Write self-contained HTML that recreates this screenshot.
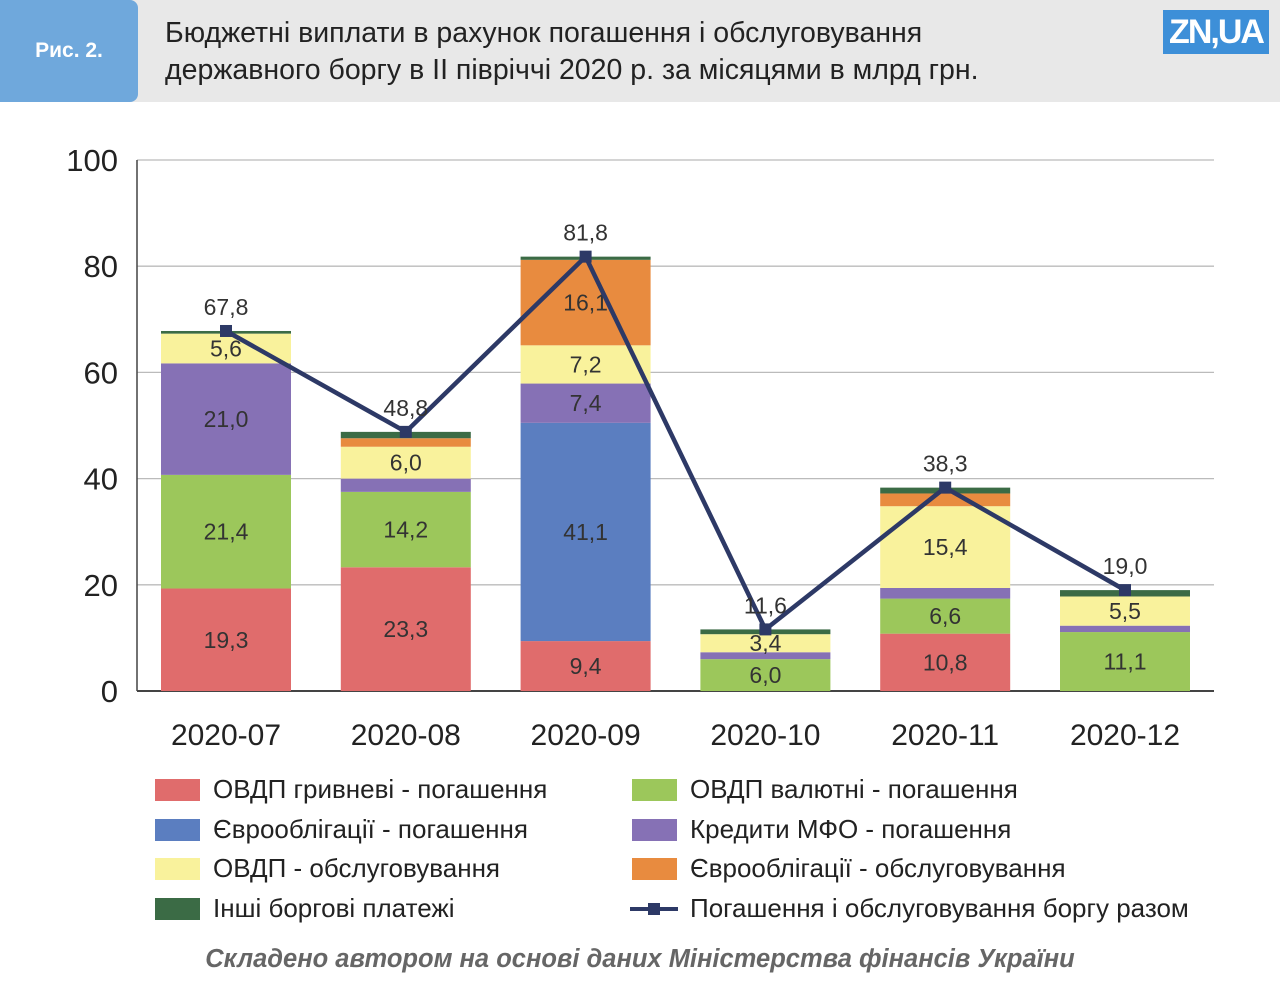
<!DOCTYPE html>
<html><head><meta charset="utf-8">
<style>
body{margin:0;width:1280px;height:991px;background:#fff;font-family:"Liberation Sans",sans-serif;overflow:hidden;position:relative}
.hdr{position:absolute;left:0;top:0;width:1280px;height:102px;background:#e8e8e8}
.fig{position:absolute;left:0;top:0;width:138px;height:102px;background:#6fa8dc;color:#fff;font-weight:bold;font-size:21px;line-height:102px;text-align:center;border-radius:0 8px 8px 0}
.title{position:absolute;left:165px;top:15px;font-size:28.5px;line-height:37px;color:#222}
.logo{position:absolute;left:1163px;top:10px;width:106px;height:44px;background:#3d8fd8;color:#fff;font-weight:bold;font-size:34px;line-height:44px;text-align:center;letter-spacing:-2px}
.leg{position:absolute;font-size:26px;color:#222}
.sw{position:absolute;width:45px;height:22px}
.foot{position:absolute;left:0;width:1280px;top:945px;text-align:center;font-size:25.5px;font-weight:bold;font-style:italic;color:#666}
</style></head><body>
<div class="hdr"></div>
<div class="fig">Рис. 2.</div>
<div class="title">Бюджетні виплати в рахунок погашення і обслуговування<br>державного боргу в ІІ півріччі 2020 р. за місяцями в млрд грн.</div>
<div class="logo">ZN,UA</div>
<svg id="chart" width="1280" height="760" style="position:absolute;left:0;top:0"></svg>
<div id="legend"></div>
<div class="foot">Складено автором на основі даних Міністерства фінансів України</div>
<script>
const categories=["2020-07","2020-08","2020-09","2020-10","2020-11","2020-12"];
const uahRepay=[19.3,23.3,9.4,0,10.8,0];
const fxRepay=[21.4,14.2,0,6.0,6.6,11.1];
const euroRepay=[0,0,41.1,0,0,0];
const mfoRepay=[21.0,2.5,7.4,1.3,2.0,1.2];
const ovdpService=[5.6,6.0,7.2,3.4,15.4,5.5];
const euroService=[0,1.6,16.1,0,2.4,0];
const otherPay=[0.5,1.2,0.6,0.9,1.1,1.2];
const totals=[67.8,48.8,81.8,11.6,38.3,19.0];
const yTicks=[0,20,40,60,80,100];
const series=[
 {name:"ОВДП гривневі - погашення",vals:uahRepay,color:"#e06c6c",id:"uah-repay"},
 {name:"ОВДП валютні - погашення",vals:fxRepay,color:"#9cc75b",id:"fx-repay"},
 {name:"Єврооблігації - погашення",vals:euroRepay,color:"#5b7ec0",id:"euro-repay"},
 {name:"Кредити МФО - погашення",vals:mfoRepay,color:"#8671b5",id:"mfo-repay"},
 {name:"ОВДП - обслуговування",vals:ovdpService,color:"#f9f29c",id:"ovdp-service"},
 {name:"Єврооблігації - обслуговування",vals:euroService,color:"#e88b3f",id:"euro-service"},
 {name:"Інші боргові платежі",vals:otherPay,color:"#3b6b45",id:"other-pay"}];
const NS="http://www.w3.org/2000/svg";
const svg=document.getElementById('chart');
const y0=691,pxU=5.31,x0=137,x1=1214;
const Y=v=>y0-v*pxU;
const X=i=>226+i*179.8;
const bw=130;
function mk(t,a,p){const e=document.createElementNS(NS,t);for(const k in a)e.setAttribute(k,a[k]);(p||svg).appendChild(e);return e;}
yTicks.forEach(t=>{
 const l=mk('line',{x1:x0,x2:x1,y1:Y(t),y2:Y(t),stroke:t===0?'#444':'#bbb','stroke-width':t===0?2:1.3});
 
 
 const tx=mk('text',{x:118,y:Y(t)+11,'text-anchor':'end','font-size':31,fill:'#222'});
 tx.textContent=t;
 
 
});
const ax=mk('line',{x1:x0,x2:x0,y1:Y(100),y2:y0,stroke:'#444','stroke-width':1.5});


categories.forEach((c,i)=>{
 let acc=0;
 series.forEach(s=>{
  const v=s.vals[i];
  if(v>0){
   const r=mk('rect',{x:X(i)-bw/2,y:Y(acc+v),width:bw,height:v*pxU,fill:s.color});
   
   
   if(v>=3){
    const t=mk('text',{x:X(i),y:Y(acc+v/2)+8,'text-anchor':'middle','font-size':23,fill:'#333'});
    t.textContent=v.toFixed(1).replace('.',',');
    
    
   }
  }
  acc+=v;
 });
 const xl=mk('text',{x:X(i),y:745,'text-anchor':'middle','font-size':30,fill:'#222'});
 xl.textContent=c;
 
 
});
const pts=totals.map((v,i)=>X(i)+','+Y(v)).join(' ');
const pl=mk('polyline',{points:pts,fill:'none',stroke:'#2d3966','stroke-width':4.5});


totals.forEach((v,i)=>{
 const m=mk('rect',{x:X(i)-6,y:Y(v)-6,width:12,height:12,fill:'#2d3966'});
 
 
 const t=mk('text',{x:X(i),y:Y(v)-16,'text-anchor':'middle','font-size':23,fill:'#333'});
 t.textContent=v.toFixed(1).replace('.',',');
 
 
});
const lg=document.getElementById('legend');
const order=[[0,155,790],[1,632,790],[2,155,830],[3,632,830],[4,155,869],[5,632,869],[6,155,909]];
order.forEach(([k,x,y])=>{
 const s=series[k];
 const sw=document.createElement('div');sw.className='sw';
 sw.style.left=x+'px';sw.style.top=(y-11)+'px';sw.style.background=s.color;
 
 
 lg.appendChild(sw);
 const t=document.createElement('div');t.className='leg';
 t.style.left=(x+58)+'px';t.style.top=(y-16)+'px';t.textContent=s.name;
 
 
 lg.appendChild(t);
});
const lsvg=document.createElementNS(NS,'svg');
lsvg.setAttribute('width','60');lsvg.setAttribute('height','20');
lsvg.style.cssText='position:absolute;left:630px;top:899px';


lsvg.innerHTML='<line x1="0" x2="48" y1="10" y2="10" stroke="#2d3966" stroke-width="4"/><rect x="18" y="4" width="12" height="12" fill="#2d3966"/>';
lg.appendChild(lsvg);
const lt=document.createElement('div');lt.className='leg';
lt.style.left='690px';lt.style.top='893px';lt.textContent='Погашення і обслуговування боргу разом';


lg.appendChild(lt);
</script>
</body></html>
